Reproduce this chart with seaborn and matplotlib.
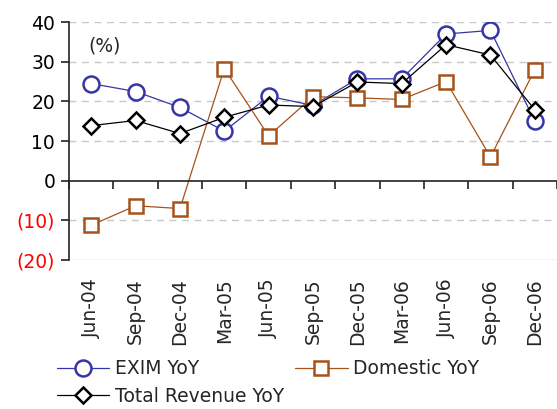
import numpy as np
import pandas as pd
import matplotlib
matplotlib.use("Agg")
import matplotlib.pyplot as plt
import seaborn as sns
from matplotlib.lines import Line2D

# Data
quarters = ["Jun-04", "Sep-04", "Dec-04", "Mar-05", "Jun-05", "Sep-05",
            "Dec-05", "Mar-06", "Jun-06", "Sep-06", "Dec-06"]
exim_yoy = [24.5, 22.5, 18.5, 12.5, 21.3, 19.0, 25.7, 25.7, 37.0, 37.9, 15.0]
domestic_yoy = [-11.2, -6.3, -7.0, 28.3, 11.3, 21.2, 20.9, 20.5, 25.0, 6.0, 28.0]
total_yoy = [13.9, 15.2, 11.9, 16.0, 19.1, 18.7, 24.9, 24.5, 34.3, 31.7, 17.9]
y_ticks = [-20, -10, 0, 10, 20, 30, 40]

sns.set_style("white")
plt.rcParams['font.family'] = ['DejaVu Sans']
fs = 13.5

fig = plt.figure(figsize=(5.57, 4.09), dpi=100)
ax = fig.add_axes([0.124, 0.364, 0.876, 0.582])

x = np.arange(len(quarters))
series = [
    ("EXIM YoY", exim_yoy, "#3535A8", "o", 11.5),
    ("Domestic YoY", domestic_yoy, "#A5521B", "s", 10.5),
    ("Total Revenue YoY", total_yoy, "black", "D", 8.5),
]

# -------- lines --------
handles = {}
for name, vals, col, mk, ms in series:
    sns.lineplot(x=x, y=vals, ax=ax, color=col, marker=mk, markersize=ms,
                 markerfacecolor="white", markeredgecolor=col,
                 markeredgewidth=1.8, linewidth=0.9, legend=False)
    handles[name] = Line2D([], [], color=col, marker=mk, markersize=ms,
                           markerfacecolor="white", markeredgecolor=col,
                           markeredgewidth=1.8, linewidth=0.9, label=name)

# -------- axes styling --------
ax.set_xlim(-0.5, len(quarters) - 0.5)
ax.set_ylim(-20, 40)
ax.set_yticks(y_ticks)
ax.set_yticklabels([f"({abs(v)})" if v < 0 else str(v) for v in y_ticks])

ax.set_xticks(x)
ax.set_xticklabels(quarters)
ax.set_xticks(np.arange(-0.5, len(quarters), 1), minor=True)
ax.tick_params(axis="x", which="major", length=0, pad=70, labelsize=fs,
               labelrotation=90)
ax.tick_params(axis="x", which="minor", direction="out", length=6,
               width=1.2, color="#222222", bottom=True)
ax.tick_params(axis="y", direction="out", length=6, width=1.2,
               color="#222222", labelsize=fs, left=True, pad=4)
for lbl in ax.get_xticklabels():
    lbl.set_va("top")
for lbl, v in zip(ax.get_yticklabels(), y_ticks):
    lbl.set_color("red" if v < 0 else "black")

for s in ["top", "right"]:
    ax.spines[s].set_visible(False)
ax.spines["bottom"].set_position(("data", 0))
ax.spines["bottom"].set_color("#222222")
ax.spines["bottom"].set_linewidth(1.2)
ax.spines["left"].set_color("#222222")
ax.spines["left"].set_linewidth(1.2)

for v in y_ticks:
    if v == 0:
        continue
    ax.axhline(v, color="#C8C8C8", linewidth=1.0,
               linestyle="-" if v == -20 else (0, (5, 4)), zorder=0)

ax.set_xlabel("")
ax.set_ylabel("")
ax.text(0.04, 0.9, "(%)", transform=ax.transAxes, fontsize=fs, va="center")

# column-wise fill: EXIM / Total in col 1, Domestic in col 2
order = ["EXIM YoY", "Total Revenue YoY", "Domestic YoY"]
fig.legend(handles=[handles[k] for k in order], ncol=2, loc="upper left",
           bbox_to_anchor=(0.088, 0.14), frameon=False, fontsize=fs,
           handlelength=2.8, handletextpad=0.3, columnspacing=0.6,
           labelspacing=0.45, borderaxespad=0)

fig.savefig("out.png", dpi=100)
